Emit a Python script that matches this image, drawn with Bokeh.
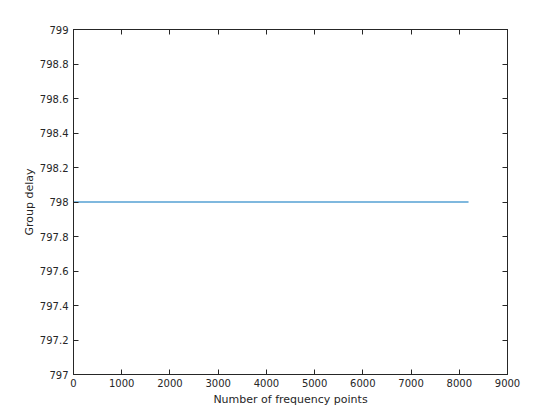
from bokeh.plotting import figure
from bokeh.models import LinearAxis, FixedTicker, CustomJSTickFormatter, Range1d
from bokeh.embed import file_html
from bokeh.resources import INLINE

# Data
freq_points = [1, 8192]
group_delay = [798, 798]
x_ticks = [0, 1000, 2000, 3000, 4000, 5000, 6000, 7000, 8000, 9000]
y_ticks = [797, 797.2, 797.4, 797.6, 797.8, 798, 798.2, 798.4, 798.6, 798.8, 799]
x_label = "Number of frequency points"
y_label = "Group delay"

FONT = "DejaVu Sans"
AX = "#262626"

p = figure(frame_width=434, frame_height=345, output_backend="svg", toolbar_location=None,
           x_range=Range1d(0, 9000), y_range=Range1d(797, 799),
           min_border_left=73, min_border_top=29, min_border_bottom=38, min_border_right=37,
           background_fill_color="white", border_fill_color="white")
p.grid.visible = False
p.outline_line_color = AX

p.line(freq_points, group_delay, line_color="#0072BD", line_width=1.2)

fmt = CustomJSTickFormatter(code="return Number(tick.toFixed(1)).toString();")
blank = CustomJSTickFormatter(code="return '';")

def style(ax):
    ax.axis_line_color = AX
    ax.major_tick_line_color = AX
    ax.minor_tick_line_color = None
    ax.major_tick_in = 5
    ax.major_tick_out = 0
    ax.major_label_text_font = FONT
    ax.major_label_text_font_size = "10px"
    ax.major_label_text_color = AX
    ax.axis_label_text_font = FONT
    ax.axis_label_text_font_size = "11px"
    ax.axis_label_text_font_style = "normal"
    ax.axis_label_text_color = AX

xb = p.xaxis[0]
xb.ticker = FixedTicker(ticks=x_ticks)
xb.axis_label = x_label
xb.major_label_standoff = 4
xb.axis_label_standoff = 3
style(xb)

yl = p.yaxis[0]
yl.ticker = FixedTicker(ticks=y_ticks)
yl.formatter = fmt
yl.axis_label = y_label
yl.major_label_standoff = 5
yl.axis_label_standoff = 1
style(yl)

top = LinearAxis(ticker=FixedTicker(ticks=x_ticks), formatter=blank, major_label_standoff=0)
style(top)
p.add_layout(top, "above")
right = LinearAxis(ticker=FixedTicker(ticks=y_ticks), formatter=blank, major_label_standoff=0)
style(right)
p.add_layout(right, "right")

open("out.html", "w").write(file_html(p, INLINE))
